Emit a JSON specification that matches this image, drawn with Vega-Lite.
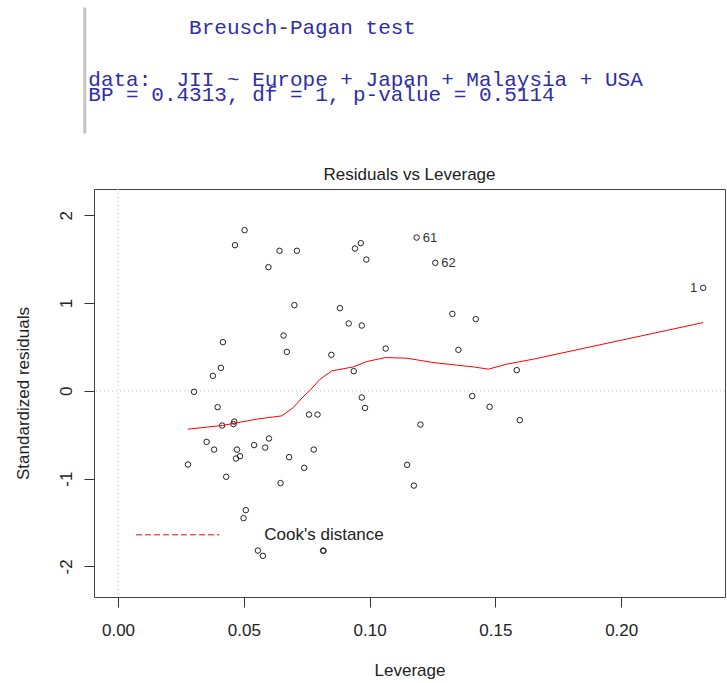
{
  "$schema": "https://vega.github.io/schema/vega-lite/v6.json",
  "background": "white",
  "padding": {"left": 13, "top": 5.5, "right": 0, "bottom": 4},
  "bounds": "flush",
  "spacing": 55.5,
  "config": {"view": {"stroke": null}, "font": "Liberation Sans"},
  "datasets": {
    "header": [
      {"row": 4, "col": 0, "line": "data:\u00a0 JII ~ Europe + Japan + Malaysia + USA"},
      {"row": 5, "col": 0, "line": "BP = 0.4313, df = 1, p-value = 0.5114"}
    ],
    "points": [
      {"h": 0.0503, "r": 1.830}, {"h": 0.0465, "r": 1.659}, {"h": 0.0642, "r": 1.595},
      {"h": 0.0711, "r": 1.595}, {"h": 0.0598, "r": 1.409}, {"h": 0.0701, "r": 0.976},
      {"h": 0.0658, "r": 0.630}, {"h": 0.0671, "r": 0.444}, {"h": 0.0417, "r": 0.555},
      {"h": 0.0409, "r": 0.262}, {"h": 0.0377, "r": 0.171}, {"h": 0.0302, "r": -0.011},
      {"h": 0.0396, "r": -0.186}, {"h": 0.0759, "r": -0.270}, {"h": 0.0414, "r": -0.395},
      {"h": 0.0462, "r": -0.350}, {"h": 0.0459, "r": -0.379}, {"h": 0.0352, "r": -0.581},
      {"h": 0.0382, "r": -0.669}, {"h": 0.0278, "r": -0.839}, {"h": 0.0473, "r": -0.669},
      {"h": 0.0469, "r": -0.771}, {"h": 0.0485, "r": -0.744}, {"h": 0.0541, "r": -0.618},
      {"h": 0.0585, "r": -0.646}, {"h": 0.0600, "r": -0.543}, {"h": 0.0680, "r": -0.755},
      {"h": 0.0740, "r": -0.877}, {"h": 0.0430, "r": -0.979}, {"h": 0.0646, "r": -1.051},
      {"h": 0.0508, "r": -1.359}, {"h": 0.0499, "r": -1.450}, {"h": 0.0556, "r": -1.819},
      {"h": 0.0576, "r": -1.879}, {"h": 0.1187, "r": 1.746, "id": 61}, {"h": 0.1261, "r": 1.458, "id": 62},
      {"h": 0.0965, "r": 1.682}, {"h": 0.0942, "r": 1.621}, {"h": 0.0987, "r": 1.495},
      {"h": 0.0882, "r": 0.942}, {"h": 0.0917, "r": 0.767}, {"h": 0.0969, "r": 0.744},
      {"h": 0.1329, "r": 0.877}, {"h": 0.1422, "r": 0.817}, {"h": 0.1064, "r": 0.482},
      {"h": 0.0848, "r": 0.410}, {"h": 0.1353, "r": 0.467}, {"h": 0.0937, "r": 0.224},
      {"h": 0.1585, "r": 0.236}, {"h": 0.0969, "r": -0.076}, {"h": 0.0982, "r": -0.194},
      {"h": 0.1408, "r": -0.060}, {"h": 0.1477, "r": -0.182}, {"h": 0.0793, "r": -0.270},
      {"h": 0.1597, "r": -0.334}, {"h": 0.1202, "r": -0.384}, {"h": 0.0778, "r": -0.669},
      {"h": 0.1149, "r": -0.843}, {"h": 0.1176, "r": -1.079}, {"h": 0.0815, "r": -1.819},
      {"h": 0.0817, "r": -1.822}, {"h": 0.2326, "r": 1.173, "id": 1}
    ],
    "smooth": [
      {"h": 0.0278, "r": -0.436}, {"h": 0.0414, "r": -0.395}, {"h": 0.0552, "r": -0.322},
      {"h": 0.0651, "r": -0.285}, {"h": 0.0697, "r": -0.190}, {"h": 0.0733, "r": -0.076},
      {"h": 0.0764, "r": 0.008}, {"h": 0.0803, "r": 0.133}, {"h": 0.0850, "r": 0.228},
      {"h": 0.0936, "r": 0.273}, {"h": 0.0989, "r": 0.334}, {"h": 0.1062, "r": 0.379},
      {"h": 0.1148, "r": 0.372}, {"h": 0.1253, "r": 0.322}, {"h": 0.1346, "r": 0.293},
      {"h": 0.1412, "r": 0.273}, {"h": 0.1472, "r": 0.247}, {"h": 0.1545, "r": 0.304},
      {"h": 0.1651, "r": 0.361}, {"h": 0.2326, "r": 0.778}
    ],
    "refx": [{"h": 0}],
    "refy": [{"r": 0}]
  },
  "vconcat": [
    {
      "width": 631,
      "height": 126,
      "title": {
        "text": "Breusch-Pagan test",
        "orient": "top",
        "anchor": "start",
        "frame": "group",
        "offset": -48.6,
        "baseline": "alphabetic",
        "dx": 95.1,
        "font": "Liberation Mono",
        "fontSize": 21,
        "fontWeight": "normal",
        "color": "#2e2ea8"
      },
      "layer": [
        {
          "data": {"values": [{"item": "gutter"}]},
          "mark": {"type": "rule", "color": "#c4c4c4", "strokeWidth": 3},
          "encoding": {
            "x": {"datum": -0.278, "type": "quantitative", "scale": {"domain": [0.452, 50.53], "nice": false, "zero": false}, "axis": null}
          }
        },
        {
          "data": {"name": "header"},
          "mark": {"type": "text", "align": "left", "baseline": "alphabetic", "font": "Liberation Mono", "fontSize": 21, "color": "#2e2ea8"},
          "encoding": {
            "x": {"field": "col", "type": "quantitative", "axis": null},
            "y": {"field": "row", "type": "quantitative", "scale": {"domain": [-0.968, 7.057], "reverse": true, "nice": false, "zero": false}, "axis": null},
            "text": {"field": "line", "type": "nominal"}
          }
        }
      ]
    },
    {
      "width": 631,
      "height": 408,
      "view": {"stroke": "#444444", "strokeWidth": 1},
      "title": {
        "text": "Residuals vs Leverage",
        "font": "Liberation Sans",
        "fontSize": 17,
        "fontWeight": "normal",
        "color": "#222222",
        "anchor": "middle",
        "offset": -8.4,
        "baseline": "alphabetic"
      },
      "layer": [
        {
          "data": {"name": "refy"},
          "mark": {"type": "rule", "color": "#bebebe", "strokeDash": [1, 3], "strokeWidth": 1},
          "encoding": {"y": {"field": "r", "type": "quantitative"}}
        },
        {
          "data": {"name": "refx"},
          "mark": {"type": "rule", "color": "#bebebe", "strokeDash": [1, 3], "strokeWidth": 1},
          "encoding": {"x": {"field": "h", "type": "quantitative"}}
        },
        {
          "data": {"name": "points"},
          "mark": {"type": "point", "shape": "circle", "filled": false, "size": 30, "stroke": "#222222", "strokeWidth": 1, "opacity": 1},
          "encoding": {
            "x": {
              "field": "h", "type": "quantitative",
              "scale": {"domain": [-0.00954, 0.24126], "nice": false, "zero": false},
              "axis": {
                "title": "Leverage", "values": [0, 0.05, 0.1, 0.15, 0.2], "format": ".2f",
                "domain": false, "grid": false, "tickSize": 10, "tickColor": "#333333", "tickWidth": 1,
                "labelBaseline": "alphabetic", "labelPadding": 28.5, "labelFont": "Liberation Sans",
                "labelFontSize": 17, "labelColor": "#222222", "labelFlush": false, "labelOverlap": false,
                "titleFont": "Liberation Sans", "titleFontSize": 17, "titleFontWeight": "normal", "titleColor": "#222222",
                "titleX": 315.5, "titleY": 78.5, "titleBaseline": "alphabetic", "titleAlign": "center"
              }
            },
            "y": {
              "field": "r", "type": "quantitative",
              "scale": {"domain": [-2.348, 2.299], "nice": false, "zero": false},
              "axis": {
                "title": "Standardized residuals", "values": [-2, -1, 0, 1, 2], "labelExpr": "'' + datum.value",
                "domain": false, "grid": false, "tickSize": 10, "tickColor": "#333333", "tickWidth": 1,
                "labelAngle": -90, "labelAlign": "center", "labelBaseline": "alphabetic", "labelPadding": 13,
                "labelFont": "Liberation Sans", "labelFontSize": 17, "labelColor": "#222222",
                "labelFlush": false, "labelOverlap": false,
                "titleFont": "Liberation Sans", "titleFontSize": 17, "titleFontWeight": "normal", "titleColor": "#222222",
                "titleAngle": -90, "titleAlign": "center", "titleBaseline": "alphabetic", "titleX": -65.7, "titleY": 204
              }
            }
          }
        },
        {
          "data": {"name": "smooth"},
          "mark": {"type": "line", "color": "#ff0000", "strokeWidth": 1},
          "encoding": {
            "x": {"field": "h", "type": "quantitative"},
            "y": {"field": "r", "type": "quantitative"}
          }
        },
        {
          "data": {"name": "points"},
          "transform": [{"filter": "datum.id > 1"}],
          "mark": {"type": "text", "align": "left", "baseline": "middle", "dx": 6, "font": "Liberation Sans", "fontSize": 13, "color": "#333333"},
          "encoding": {
            "x": {"field": "h", "type": "quantitative"},
            "y": {"field": "r", "type": "quantitative"},
            "text": {"field": "id", "type": "nominal"}
          }
        },
        {
          "data": {"name": "points"},
          "transform": [{"filter": "datum.id == 1"}],
          "mark": {"type": "text", "align": "right", "baseline": "middle", "dx": -6, "font": "Liberation Sans", "fontSize": 13, "color": "#333333"},
          "encoding": {
            "x": {"field": "h", "type": "quantitative"},
            "y": {"field": "r", "type": "quantitative"},
            "text": {"field": "id", "type": "nominal"}
          }
        },
        {
          "data": {"values": []},
          "mark": {"type": "line", "strokeDash": [6, 3], "strokeWidth": 1},
          "encoding": {
            "x": {"field": "h", "type": "quantitative"},
            "y": {"field": "r", "type": "quantitative"},
            "color": {
              "field": "series", "type": "nominal",
              "scale": {"domain": ["Cook's distance"], "range": ["#ff0000"]},
              "legend": {
                "title": null, "orient": "none", "legendX": 41.2, "legendY": 484.8, "padding": 0,
                "symbolType": "stroke", "symbolSize": 6940, "symbolStrokeWidth": 1, "symbolDash": [6, 3],
                "labelFont": "Liberation Sans", "labelFontSize": 17, "labelColor": "#222222",
                "labelOffset": 44.1, "labelLimit": 0
              }
            }
          }
        }
      ]
    }
  ]
}
